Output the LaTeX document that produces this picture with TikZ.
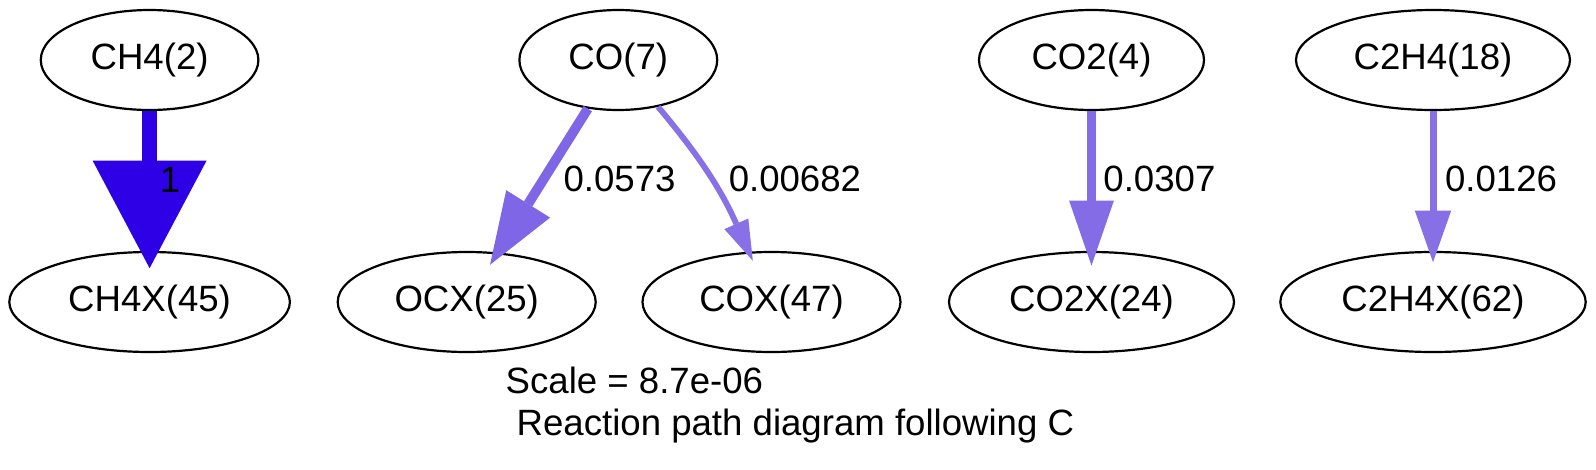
\documentclass[tikz,border=0pt]{standalone}
\usepackage{fontspec}
\setmainfont{Liberation Sans}
\usetikzlibrary{shapes.geometric,arrows.meta}
\definecolor{fA}{RGB}{46,0,230}
\definecolor{fB}{RGB}{127,102,230}
\definecolor{fC}{RGB}{136,113,230}
\definecolor{fD}{RGB}{132,108,230}
\definecolor{fE}{RGB}{135,112,230}
\begin{document}
\begin{tikzpicture}[x=1pt,y=-1pt,
  sp/.style={ellipse, draw=black, line width=2.2pt, inner sep=0pt, minimum height=100pt, font=\fontsize{36.6}{44}\selectfont},
  lab/.style={inner sep=0pt, font=\fontsize{36.6}{44}\selectfont}]
\fill[white] (0,0) rectangle (1596,469);
\path[use as bounding box] (0,0) rectangle (1596,469);
% species
\node[sp, minimum width=217.6pt] (CH4) at (149.6,60) {CH4(2)};
\node[sp, minimum width=280.6pt] (CH4X) at (149.6,302) {CH4X(45)};
\node[sp, minimum width=197.8pt] (CO) at (618.3,60) {CO(7)};
\node[sp, minimum width=258pt] (OCX) at (466.7,302) {OCX(25)};
\node[sp, minimum width=258pt] (COX) at (771.5,302) {COX(47)};
\node[sp, minimum width=225pt] (CO2) at (1091.5,60) {CO2(4)};
\node[sp, minimum width=285pt] (CO2X) at (1091.5,302) {CO2X(24)};
\node[sp, minimum width=274pt] (C2H4) at (1433,60) {C2H4(18)};
\node[sp, minimum width=305.4pt] (C2H4X) at (1433,302) {C2H4X(62)};
% fluxes
\draw[line width=15.7pt, color=fA, -{Triangle[length=107.6pt,width=114pt,line width=0pt]}, shorten >=-17.3pt] (CH4) -- (CH4X);
\draw[line width=9.8pt, color=fB, -{Triangle[length=71.8pt,width=51.7pt,line width=0pt]}, shorten >=-14.6pt] (CO) -- (OCX);
\draw[line width=5.8pt, color=fC, -{Triangle[length=40.5pt,width=26.2pt,line width=0pt]}, shorten >=-10pt] (CO) to[bend left=8] (COX);
\draw[line width=9pt, color=fD, -{Triangle[length=65pt,width=44.8pt,line width=0pt]}, shorten >=-14.7pt] (CO2) -- (CO2X);
\draw[line width=7pt, color=fE, -{Triangle[length=51.6pt,width=36.4pt,line width=0pt]}, shorten >=-11.3pt] (C2H4) -- (C2H4X);
% labels
\node[lab] (l1) at (170,180) {1};
\node[lab] (l2) at (619.5,178.7) {0.0573};
\node[lab] (l3) at (794.9,178.7) {0.00682};
\node[lab] (l4) at (1159.4,178.7) {0.0307};
\node[lab] (l5) at (1501,178.7) {0.0126};
% title
\node[lab, anchor=base west] (t1) at (505.5,393) {Scale = 8.7e-06};
\node[lab, anchor=base west] (t2) at (516.5,435) {Reaction path diagram following C};
\end{tikzpicture}
\end{document}
